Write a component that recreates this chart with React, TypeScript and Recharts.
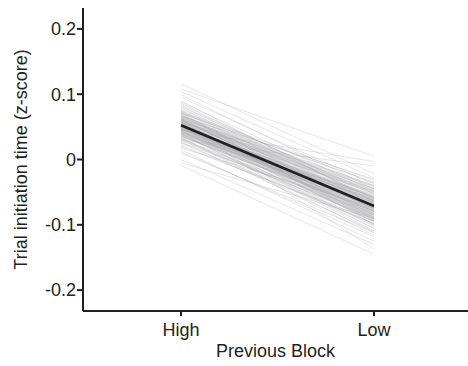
import React from "react";
import { LineChart, Line, XAxis, YAxis } from "recharts";

const blocks = ["High", "Low"];
const yTicks = [-0.2, -0.1, 0, 0.1, 0.2];

const highValues = [
  0.052, 0.061, 0.043, 0.070, 0.035, 0.058, 0.049, 0.081, 0.027, 0.064,
  0.055, 0.046, 0.038, 0.073, 0.060, 0.050, 0.042, 0.088, 0.031, 0.057,
  0.066, 0.053, 0.044, 0.078, 0.020, 0.059, 0.048, 0.069, 0.036, 0.062,
  0.051, 0.040, 0.095, 0.054, 0.033, 0.072, 0.047, 0.063, 0.025, 0.056,
  0.067, 0.045, 0.058, 0.039, 0.084, 0.050, 0.029, 0.061, 0.053, 0.075,
  0.041, 0.065, 0.048, 0.104, 0.034, 0.057, 0.052, 0.071, 0.044, 0.060,
  0.010, 0.049, 0.068, 0.037, 0.055, 0.079, 0.046, 0.062, 0.032, 0.054,
  0.116, 0.043, 0.059, 0.050, 0.074, 0.038, 0.066, 0.051, 0.022, 0.057,
  0.047, 0.086, 0.055, 0.040, 0.064, 0.053, 0.030, 0.069, 0.045, 0.058,
  -0.009, 0.052, 0.076, 0.042, 0.061, 0.048, 0.099, 0.036, 0.056, 0.050,
  0.063, 0.044, 0.071, 0.039, 0.054, 0.015, 0.060, 0.047, 0.082, 0.053,
  0.026, 0.058, 0.049, 0.067, 0.041, 0.108, 0.055, 0.035, 0.062, 0.046,
  0.045, 0.030, -0.005, 0.000, 0.090, 0.012, 0.072, 0.018, 0.066, 0.040,
];

const lowValues = [
  -0.058, -0.080, -0.070, -0.066, -0.078, -0.090, -0.062, -0.052, -0.110, -0.045,
  -0.083, -0.064, -0.101, -0.032, -0.075, -0.060, -0.074, -0.048, -0.088, -0.092,
  -0.068, -0.086, -0.066, -0.060, -0.094, -0.048, -0.095, -0.074, -0.079, -0.041,
  -0.088, -0.070, -0.038, -0.052, -0.116, -0.064, -0.058, -0.078, -0.098, -0.080,
  -0.040, -0.094, -0.082, -0.072, -0.055, -0.057, -0.090, -0.076, -0.050, -0.065,
  -0.070, -0.073, -0.058, -0.028, -0.112, -0.052, -0.089, -0.036, -0.099, -0.077,
  -0.112, -0.063, -0.070, -0.076, -0.084, -0.060, -0.068, -0.042, -0.085, -0.087,
  -0.022, -0.105, -0.045, -0.090, -0.067, -0.078, -0.075, -0.056, -0.098, -0.082,
  -0.064, -0.058, -0.086, -0.073, -0.040, -0.088, -0.091, -0.068, -0.102, -0.047,
  -0.145, -0.092, -0.062, -0.070, -0.076, -0.063, -0.045, -0.080, -0.050, -0.095,
  -0.072, -0.066, -0.035, -0.109, -0.084, -0.125, -0.044, -0.096, -0.060, -0.079,
  -0.082, -0.049, -0.093, -0.071, -0.061, 0.005, -0.137, -0.054, -0.085, -0.069,
  -0.003, -0.010, -0.090, -0.130, -0.064, -0.118, -0.100, -0.074, -0.030, -0.106,
];

const meanValues = [0.0524, -0.0713];

const data = blocks.map((b, i) => {
  const row: Record<string, number | string> = { block: b, mean: meanValues[i] };
  const src = i === 0 ? highValues : lowValues;
  src.forEach((v, k) => {
    row["s" + k] = v;
  });
  return row;
});

const FONT = "'Liberation Sans', Arial, Helvetica, sans-serif";
const INK = "#231f20";

const YLabel = (props: any) => {
  const vb = props.viewBox || { x: 0, y: 0, width: 0, height: 0 };
  const cx = vb.x + 26.5;
  const cy = vb.y + vb.height / 2;
  return (
    <text
      x={cx}
      y={cy}
      transform={`rotate(-90 ${cx} ${cy})`}
      textAnchor="middle"
      fill={INK}
      fontSize={18}
      fontFamily={FONT}
    >
      Trial initiation time (z-score)
    </text>
  );
};

export default function App() {
  return (
    <div style={{ position: "absolute", left: 0, top: 0, background: "#fff" }}>
      <LineChart
        width={468}
        height={366}
        data={data}
        margin={{ top: 8, right: 0, bottom: 0, left: 0 }}
      >
        <XAxis
          dataKey="block"
          type="category"
          height={55}
          padding={{ left: 98, right: 94 }}
          axisLine={{ stroke: INK, strokeWidth: 2 }}
          tickLine={{ stroke: INK, strokeWidth: 2 }}
          tickSize={5}
          tickMargin={7}
          tick={{ fill: INK, fontSize: 18, fontFamily: FONT }}
          label={{
            value: "Previous Block",
            position: "insideBottom",
            offset: 9,
            fill: INK,
            fontSize: 18,
            fontFamily: FONT,
          }}
        />
        <YAxis
          type="number"
          width={83}
          domain={[-0.232, 0.232]}
          ticks={yTicks}
          allowDataOverflow
          axisLine={{ stroke: INK, strokeWidth: 2 }}
          tickLine={{ stroke: INK, strokeWidth: 2 }}
          tickSize={6}
          tickMargin={1}
          tick={{ fill: INK, fontSize: 18, fontFamily: FONT }}
          label={<YLabel />}
        />
        {highValues.map((_, k) => (
          <Line
            key={k}
            dataKey={"s" + k}
            stroke="#a4a4a8"
            strokeOpacity={0.28}
            strokeWidth={1}
            dot={false}
            activeDot={false}
            isAnimationActive={false}
          />
        ))}
        <Line
          dataKey="mean"
          stroke={INK}
          strokeWidth={2.6}
          dot={false}
          activeDot={false}
          isAnimationActive={false}
        />
      </LineChart>
    </div>
  );
}
